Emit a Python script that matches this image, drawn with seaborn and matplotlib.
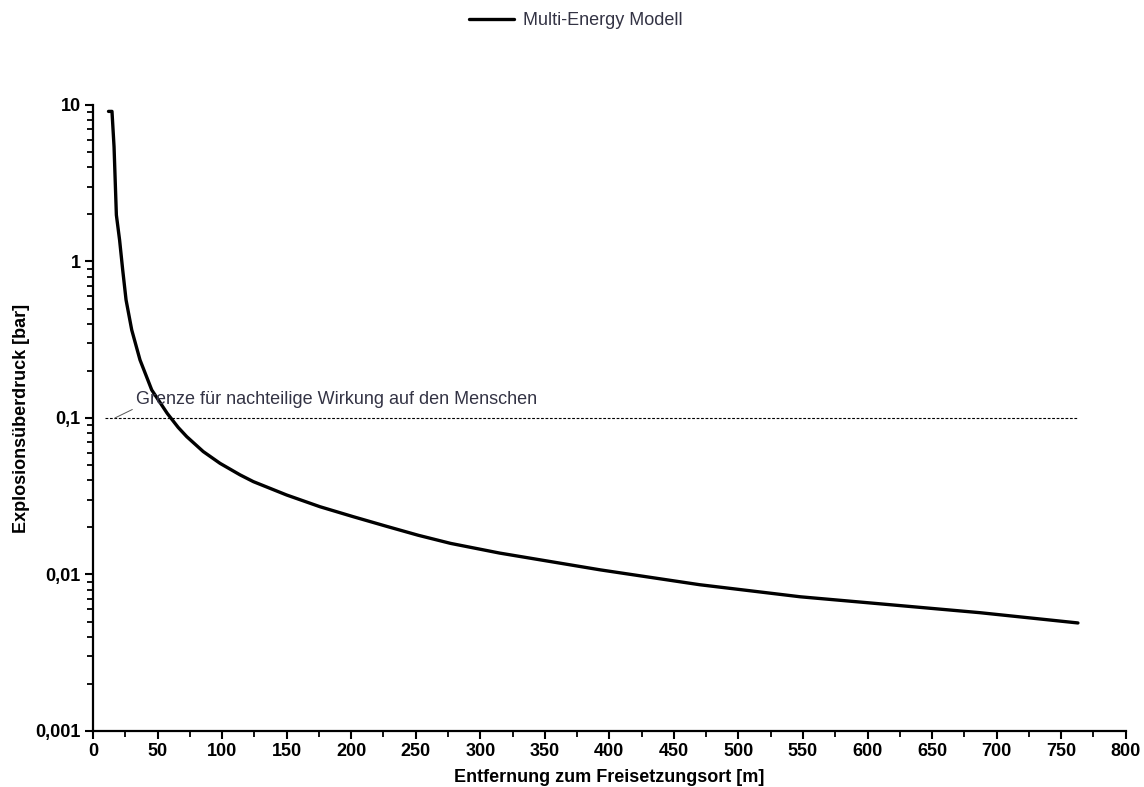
import matplotlib
matplotlib.use("Agg")
import matplotlib.pyplot as plt
import matplotlib.ticker as mticker
from matplotlib.lines import Line2D
import seaborn as sns
import pandas as pd

# Data
distance_m = [12.0, 14.7, 16.3, 18.1, 20.6, 23.0, 25.6, 30.0, 36.4, 45.5, 57.5, 66.0,
              72.6, 85.4, 98.4, 113.9, 124.2, 150.0, 175.8, 201.6, 227.5, 252.0, 277.0,
              315.0, 393.0, 470.0, 548.0, 600.0, 687.0, 763.0]
overpressure_bar = [9.1, 9.1, 5.4, 1.98, 1.37, 0.883, 0.568, 0.365, 0.235, 0.151, 0.107,
                    0.087, 0.076, 0.061, 0.0513, 0.0433, 0.0392, 0.0322, 0.0271, 0.0234,
                    0.0203, 0.0178, 0.0158, 0.0137, 0.0107, 0.0086, 0.0072, 0.0066,
                    0.0057, 0.0049]
series_name = "Multi-Energy Modell"
limit_value = 0.1
limit_x = [9.3, 763]
limit_text = "Grenze für nachteilige Wirkung auf den Menschen"
y_ticks = [0.001, 0.01, 0.1, 1, 10]
y_ticklabels = ["0,001", "0,01", "0,1", "1", "10"]
x_ticks = list(range(0, 801, 50))
x_label = "Entfernung zum Freisetzungsort [m]"
y_label = "Explosionsüberdruck [bar]"

df = pd.DataFrame({"x": distance_m, "y": overpressure_bar, "s": series_name})

sns.set_theme(style="ticks")
plt.rcParams["font.family"] = ["Liberation Sans", "DejaVu Sans"]

fig = plt.figure(figsize=(11.44, 7.87), dpi=100)
ax = fig.add_axes([0.0813, 0.0712, 0.9027, 0.7954])

sns.lineplot(data=df, x="x", y="y", hue="s", palette=["black"], linewidth=2.4,
             estimator=None, sort=False, ax=ax, legend=False)

ax.set_yscale("log")
ax.set_xlim(0, 800)
ax.set_ylim(0.001, 10)

ax.plot(limit_x, [limit_value, limit_value], color="black", linestyle=(0, (2.5, 1.5)),
        linewidth=0.8)
ax.annotate(limit_text, xy=(17, limit_value), xytext=(33, 0.116),
            fontsize=13, color="#333344", va="bottom", ha="left",
            arrowprops=dict(arrowstyle="-", color="#555555", linewidth=0.7,
                            shrinkA=0, shrinkB=0, relpos=(0, 0)))

ax.set_xticks(x_ticks)
ax.set_xticklabels([str(v) for v in x_ticks])
ax.xaxis.set_minor_locator(mticker.MultipleLocator(25))
ax.set_yticks(y_ticks)
ax.set_yticklabels(y_ticklabels)
ax.yaxis.set_minor_locator(mticker.LogLocator(base=10, subs=range(2, 10), numticks=20))
ax.yaxis.set_minor_formatter(mticker.NullFormatter())

for lab in ax.get_xticklabels() + ax.get_yticklabels():
    lab.set_fontweight("bold")
    lab.set_fontsize(13)
    lab.set_color("black")

ax.tick_params(axis="both", which="major", length=6, width=1.5, color="black", pad=3)
ax.tick_params(axis="both", which="minor", length=4, width=1.3, color="black")

for side in ["top", "right"]:
    ax.spines[side].set_visible(False)
for side in ["left", "bottom"]:
    ax.spines[side].set_linewidth(1.6)
    ax.spines[side].set_color("black")

ax.set_xlabel(x_label, fontsize=13, fontweight="bold", color="black", labelpad=6)
ax.set_ylabel(y_label, fontsize=13, fontweight="bold", color="black", labelpad=4)

handle = Line2D([0], [0], color="black", linewidth=2.4)
fig.legend([handle], [series_name], loc="upper center", bbox_to_anchor=(0.503, 1.005),
           frameon=False, fontsize=13, handlelength=2.5, handletextpad=0.5,
           labelcolor="#333344")

fig.savefig("out.png", dpi=100)
